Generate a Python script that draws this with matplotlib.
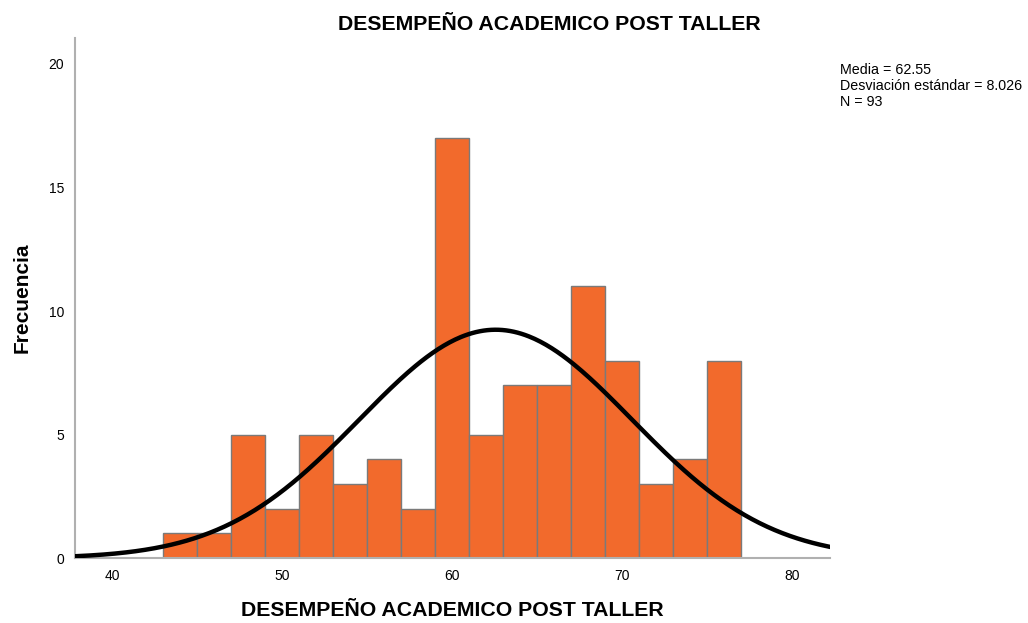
import matplotlib
matplotlib.use("Agg")
import matplotlib.pyplot as plt
import numpy as np

plt.rcParams['font.family'] = ['Liberation Sans', 'DejaVu Sans']

# histogram bins (left edges) and counts
bin_edges = [43, 45, 47, 49, 51, 53, 55, 57, 59, 61, 63, 65, 67, 69, 71, 73, 75, 77]
counts = [1, 1, 5, 2, 5, 3, 4, 2, 17, 5, 7, 7, 11, 8, 3, 4, 8]
x_ticks = [40, 50, 60, 70, 80]
y_ticks = [0, 5, 10, 15, 20]

media = 62.55
desv = 8.026
n = 93

fig = plt.figure(figsize=(10.28, 6.23), dpi=100)
ax = fig.add_axes([0.073, 0.104, 0.734, 0.835])

lefts = np.array(bin_edges[:-1])
widths = np.diff(bin_edges)
ax.bar(lefts, counts, width=widths, align='edge', color='#F26A2C',
       edgecolor='#7a7a7a', linewidth=1.0, zorder=2)

# normal curve scaled to counts
xs = np.linspace(37.8, 82.2, 400)
bw = 2
ys = n * bw / (desv * np.sqrt(2 * np.pi)) * np.exp(-0.5 * ((xs - media) / desv) ** 2)
ax.plot(xs, ys, color='black', linewidth=3.2, zorder=3)

ax.set_xlim(37.8, 82.2)
ax.set_ylim(0, 21.05)
ax.set_xticks(x_ticks)
ax.set_yticks(y_ticks)
ax.tick_params(length=0, labelsize=10, pad=8)
for side in ['top', 'right']:
    ax.spines[side].set_visible(False)
for side in ['left', 'bottom']:
    ax.spines[side].set_color('#b0b0b0')
    ax.spines[side].set_linewidth(1.5)

ax.set_title('DESEMPEÑO ACADEMICO POST TALLER', fontsize=15.3,
             fontweight='bold', pad=6, x=0.628)
ax.set_xlabel('DESEMPEÑO ACADEMICO POST TALLER', fontsize=15.3,
              fontweight='bold', labelpad=13)
ax.set_ylabel('Frecuencia', fontsize=15, fontweight='bold', labelpad=12)

fig.text(840 / 1028, 1 - 63 / 623,
         f'Media = {media}\nDesviación estándar = {desv}\nN = {n}',
         fontsize=10.3, va='top', ha='left', linespacing=1.2)

fig.savefig('out.png', dpi=100)
